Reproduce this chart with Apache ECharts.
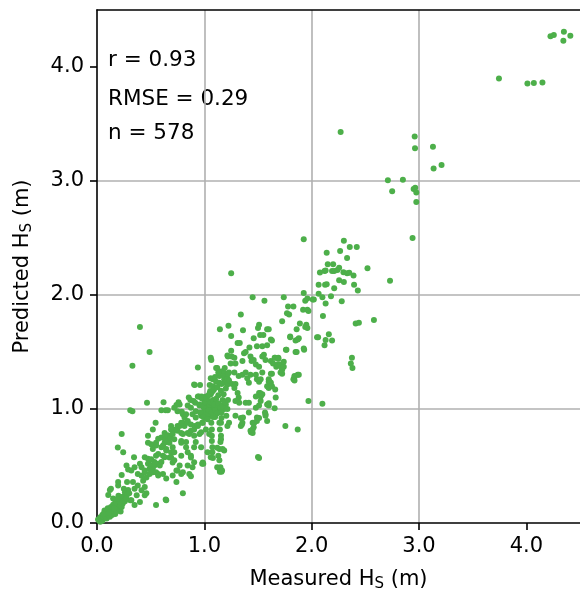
<!DOCTYPE html>
<html>
<head>
<meta charset="utf-8">
<script src="https://cdn.jsdelivr.net/npm/echarts@6/dist/echarts.min.js"></script>
<style>
  html, body { margin: 0; padding: 0; background: #fff; }
  #chart { width: 580px; height: 597px; }
</style>
</head>
<body>
<div id="chart"></div>
<script>
  // [measured Hs, predicted Hs] in metres
  var calmHs = [
    [0.01,0.03],[0.02,0.02],[0.03,0.05],[0.04,0.04],[0.05,0.07],[0.05,0.02],[0.06,0.05],[0.07,0.09],[0.07,0.11],[0.08,0.06],
    [0.09,0.04],[0.09,0.08],[0.10,0.13],[0.10,0.10],[0.11,0.07],[0.12,0.10],[0.12,0.055],[0.12,0.29],[0.13,0.14],[0.14,0.12],
    [0.14,0.07],[0.15,0.11],[0.15,0.16],[0.16,0.14],[0.17,0.08],[0.17,0.17],[0.18,0.19],[0.18,0.10],[0.19,0.15],[0.20,0.13],
    [0.20,0.24],[0.21,0.16],[0.21,0.19],[0.22,0.10],[0.22,0.21],[0.23,0.14],[0.23,0.42],[0.24,0.17],[0.24,0.23],[0.25,0.20],
    [0.26,0.19],[0.26,0.27],[0.27,0.22],[0.28,0.36],[0.28,0.25],[0.29,0.29],[0.29,0.47],[0.30,0.26],[0.31,0.20],[0.31,0.99],
    [0.105,0.245],[0.15,0.215],[0.167,0.17],[0.197,0.33],[0.197,0.36],[0.213,0.185],[0.23,0.78],[0.194,0.663],[0.244,0.62],[0.275,0.505],
    [0.27,0.215],[0.16,0.13],[0.06,0.08],[0.03,0.01],[0.11,0.09],[0.19,0.21],[0.25,0.30],[0.13,0.30],
    [0.33,0.98],[0.33,1.38],[0.40,1.72],[0.49,1.50],[0.466,1.055],[0.62,1.06],[0.60,0.99],[0.64,0.99],[0.66,0.99],[0.76,1.06],
    [0.74,1.035],[0.32,0.46],[0.32,0.20],[0.335,0.36],[0.345,0.577],[0.35,0.30],[0.35,0.49],[0.35,0.157],[0.37,0.243],[0.38,0.33],
    [0.38,0.43],[0.40,0.52],[0.40,0.185],[0.415,0.49],[0.415,0.415],[0.415,0.287],[0.43,0.37],[0.445,0.46],[0.445,0.316],[0.445,0.577],
    [0.445,0.445],[0.445,0.243],[0.46,0.26],[0.46,0.40],[0.475,0.52],[0.475,0.563],[0.475,0.765],[0.475,0.705],[0.49,0.43],[0.49,0.55],
    [0.49,0.475],[0.505,0.505],[0.505,0.69],[0.505,0.445],[0.505,0.56],[0.52,0.475],[0.52,0.82],[0.52,0.445],[0.52,0.65],[0.535,0.535],
    [0.535,0.505],[0.54,0.52],[0.546,0.88],[0.55,0.445],[0.55,0.705],[0.55,0.68],[0.55,0.59],[0.55,0.157],[0.57,0.52],[0.57,0.74],
    [0.57,0.417],[0.57,0.605],[0.57,0.43],[0.585,0.505],[0.60,0.535],[0.60,0.665],[0.60,0.75],[0.615,0.68],[0.615,0.43],[0.615,0.59],
    [0.63,0.79],[0.63,0.705],[0.63,0.577],[0.635,0.735],[0.64,0.206],[0.645,0.65],[0.645,0.765],[0.645,0.635],[0.645,0.39],[0.645,0.20],
    [0.66,0.77],[0.66,0.72],[0.675,0.705],[0.675,0.575],[0.685,0.745],[0.69,0.82],[0.69,0.62],[0.69,0.85],[0.69,0.577],[0.705,0.82],
    [0.705,0.665],[0.705,0.78],[0.705,0.53],[0.705,0.417],[0.72,0.62],[0.72,0.735],[0.72,1.01],[0.72,0.55],[0.74,0.82],[0.74,0.46],
    [0.74,0.36],[0.75,0.98],[0.75,0.81],[0.75,0.85],[0.75,0.46],[0.77,1.04],[0.77,0.85],[0.77,0.505],[0.785,0.79],[0.785,0.705],
    [0.785,0.72],[0.785,0.59],[0.785,0.43],[0.785,0.88],[0.79,0.975]
  ];
  var coreHs = [
    [0.80,0.955],[0.80,0.88],[0.80,0.78],[0.80,0.445],[0.80,0.26],[0.815,0.925],[0.815,0.85],[0.83,0.955],[0.83,0.665],[0.83,0.71],
    [0.845,0.895],[0.845,1.03],[0.845,0.79],[0.845,0.88],[0.845,0.62],[0.845,0.505],[0.855,1.10],[0.86,0.78],[0.86,0.43],[0.87,1.08],
    [0.875,1.01],[0.875,0.865],[0.875,0.81],[0.875,0.59],[0.875,0.575],[0.875,0.41],[0.89,0.955],[0.89,0.49],[0.90,1.07],[0.905,0.82],
    [0.905,0.765],[0.905,0.665],[0.905,0.533],[0.905,1.215],[0.91,1.21],[0.91,0.85],[0.915,1.055],[0.92,0.98],[0.92,0.925],[0.92,0.71],
    [0.94,1.365],[0.94,0.85],[0.94,0.865],[0.94,1.11],[0.95,1.11],[0.955,1.04],[0.955,1.03],[0.955,0.78],[0.96,1.21],[0.97,0.94],
    [0.97,1.10],[0.97,0.795],[0.97,0.665],[0.975,1.11],[0.98,1.09],[0.98,0.88],[0.985,0.88],[0.985,0.53],[0.99,0.52],[0.98,0.52],
    [1.0,1.0],[1.0,0.96],[1.0,1.05],[1.01,0.92],[1.015,1.11],[1.015,0.82],[1.02,0.99],[1.03,1.03],[1.03,0.62],[1.04,1.07],
    [1.045,0.78],[1.05,1.00],[1.05,1.21],[1.05,1.14],[1.05,0.95],[1.055,1.157],[1.06,1.45],[1.065,1.43],[1.06,1.27],[1.06,1.13],
    [1.06,0.577],[1.06,0.94],[1.065,0.88],[1.07,0.82],[1.07,1.02],[1.07,0.765],[1.07,0.72],[1.075,0.665],[1.075,0.62],[1.08,1.20],
    [1.08,1.26],[1.08,1.16],[1.08,0.57],[1.08,0.975],[1.09,1.00],[1.09,1.17],[1.10,1.05],[1.10,0.93],[1.11,1.36],[1.11,1.24],
    [1.11,1.02],[1.12,1.36],[1.12,1.01],[1.12,0.66],[1.12,0.49],[1.13,0.59],[1.14,0.98],[1.14,1.23],[1.14,1.29],[1.14,0.88],
    [1.14,0.65],[1.14,0.55],[1.14,0.475],[1.145,0.82],[1.145,1.70],[1.145,0.45],[1.15,0.71],[1.15,0.49],[1.155,0.765],[1.155,1.33],
    [1.155,1.16],[1.155,0.88],[1.155,0.735],[1.16,0.45],[1.165,0.46],[1.17,1.33],[1.17,0.65],[1.17,1.08],[1.185,1.315],[1.185,1.00],
    [1.185,1.26],[1.185,1.29],[1.19,1.23],[1.185,0.635],[1.20,1.04],[1.205,0.94],[1.215,1.47],[1.215,1.27],[1.215,1.00],[1.215,0.85],
    [1.22,1.46],[1.215,1.215],[1.225,1.73],[1.23,1.32],[1.23,0.88],[1.245,1.40],[1.25,1.64],[1.25,1.51],[1.25,2.19],[1.255,1.46],
    [0.96,0.97],[0.99,1.02],[1.01,1.06],[1.02,0.95],[1.04,0.99],[1.05,1.04],[1.06,1.06],[1.07,0.97],[1.08,1.08],[1.09,1.04],
    [1.10,0.99],[1.11,1.09],[1.12,0.96],[1.13,1.05],[1.15,1.01],[1.16,0.97],[1.17,1.03],[1.19,1.06],[0.99,0.93],[1.03,0.91],
    [1.08,0.93],[1.16,0.92],[1.02,1.09],[1.13,1.12],[1.18,1.13],[1.22,1.08],[1.04,1.12],[1.07,1.15],[1.12,1.19],[1.16,1.22],
    [1.20,1.18],[1.23,1.25],[1.10,1.28],[1.13,1.32],[1.19,1.36],[1.22,1.31]
  ];
  var upperHs = [
    [1.26,1.22],[1.28,1.45],[1.28,1.32],[1.28,1.185],[1.29,1.40],[1.29,1.22],[1.29,1.07],[1.29,0.94],[1.31,1.58],[1.31,1.14],
    [1.32,1.29],[1.32,1.10],[1.325,1.055],[1.33,1.58],[1.34,1.83],[1.34,0.92],[1.34,0.85],[1.35,0.865],[1.355,1.42],[1.355,1.30],
    [1.355,0.88],[1.36,0.925],[1.36,1.69],[1.37,1.49],[1.385,1.50],[1.385,1.32],[1.385,1.055],[1.40,1.27],[1.415,1.23],[1.415,1.055],
    [1.415,0.97],[1.42,1.54],[1.43,1.46],[1.43,1.30],[1.43,0.81],[1.435,0.795],[1.44,1.42],[1.45,1.98],[1.45,0.88],[1.45,0.79],
    [1.45,0.82],[1.46,1.62],[1.46,1.43],[1.46,0.84],[1.465,0.88],[1.48,1.39],[1.48,1.30],[1.48,1.11],[1.48,1.01],[1.49,1.55],
    [1.49,1.26],[1.49,0.895],[1.49,0.925],[1.50,1.71],[1.50,0.58],[1.51,1.74],[1.51,1.37],[1.51,1.24],[1.51,1.14],[1.51,1.03],
    [1.51,0.92],[1.51,0.57],[1.52,1.65],[1.52,1.14],[1.525,1.26],[1.525,1.07],[1.525,1.11],[1.53,1.12],[1.54,1.55],[1.54,1.46],
    [1.54,1.32],[1.54,1.13],[1.55,1.65],[1.555,1.475],[1.56,1.95],[1.565,0.97],[1.57,1.43],[1.57,0.94],[1.57,0.955],[1.585,1.70],
    [1.585,1.56],[1.585,1.04],[1.585,1.20],[1.585,0.895],[1.60,1.185],[1.60,1.26],[1.60,1.03],[1.60,1.05],[1.60,1.70],[1.60,1.24],
    [1.61,1.24],[1.62,1.61],[1.62,1.31],[1.62,1.42],[1.62,1.23],[1.63,1.20],[1.63,1.60],[1.63,1.31],[1.64,1.40],[1.655,1.45],
    [1.655,1.006],[1.66,1.45],[1.66,1.17],[1.665,1.10],[1.67,1.37],[1.68,1.39],[1.69,1.45],[1.69,1.44],[1.69,1.39],[1.71,1.39],
    [1.71,1.32],[1.72,1.36],[1.725,1.77],[1.725,1.31],[1.725,1.345],[1.74,1.37],[1.74,1.415],[1.74,1.98],[1.755,0.85],[1.76,1.52],
    [1.765,1.52]
  ];
  var roughHs = [
    [1.77,1.84],[1.78,1.90],[1.79,1.83],[1.80,1.635],[1.80,1.63],[1.83,1.90],[1.83,1.26],[1.84,1.28],[1.84,1.25],[1.84,1.29],
    [1.85,1.60],[1.85,1.50],[1.86,1.70],[1.86,1.50],[1.87,1.61],[1.87,1.30],[1.87,0.82],[1.88,1.62],[1.88,1.30],[1.89,1.75],
    [1.92,1.87],[1.926,2.49],[1.926,2.017],[1.926,1.53],[1.93,1.52],[1.94,1.95],[1.94,1.72],[1.95,1.74],[1.96,1.97],[1.96,1.71],
    [1.96,1.87],[1.97,1.86],[1.97,1.07],[2.01,1.96],[2.02,1.96],[2.05,1.63],[2.06,1.63],[2.065,2.09],[2.065,2.01],[2.077,2.197],
    [2.10,1.98],[2.10,1.046],[2.105,1.815],[2.12,2.21],[2.12,1.56],[2.125,2.09],[2.13,2.215],[2.13,1.925],[2.13,1.605],[2.14,2.37],
    [2.14,2.095],[2.15,2.27],[2.16,1.655],[2.18,1.99],[2.19,2.21],[2.19,1.60],[2.20,2.27],[2.21,2.21],[2.21,2.06],[2.24,2.22],
    [2.256,2.24],[2.256,2.13],[2.265,2.385],[2.27,3.43],[2.28,1.945],[2.296,2.20],[2.30,2.475],[2.30,2.115],[2.33,2.325],[2.33,2.19],
    [2.35,2.195],[2.355,2.42],[2.365,1.40],[2.375,1.45],[2.38,1.36],[2.39,2.17],[2.395,2.09],[2.41,1.75],[2.42,2.42],[2.43,2.04],
    [2.44,1.757],[2.52,2.235],[2.58,1.78],
    [2.71,3.006],[2.73,2.125],[2.75,2.91],[2.85,3.01],[2.94,2.50],[2.95,2.93],[2.965,2.94],[2.975,2.90],[2.975,2.815],[2.96,3.39],
    [2.963,3.287],[3.13,3.30],[3.136,3.11],[3.21,3.14],[3.745,3.90],[4.01,3.855],[4.07,3.86],[4.15,3.865],[4.225,4.27],[4.256,4.28],
    [4.35,4.31],[4.41,4.275],[4.345,4.23]
  ];
  var tickValues = [0, 1, 2, 3, 4];
  var statLines = ['r = 0.93', 'RMSE = 0.29', 'n = 578'];

  var font = 'DejaVu Sans';
  var green = '#4daf4a';
  var subStyle = {
    sub: { fontFamily: font, fontSize: 15, color: '#000', padding: [10, 0, 0, 0] }
  };

  var chart = echarts.init(document.getElementById('chart'));

  function makeAxis(name, gap) {
    return {
      type: 'value',
      min: 0,
      max: 4.5,
      interval: 1,
      name: name,
      nameLocation: 'middle',
      nameGap: gap,
      nameTextStyle: { fontFamily: font, fontSize: 21, color: '#000', rich: subStyle },
      axisLine: { show: true, onZero: false, lineStyle: { color: '#000', width: 1.6 } },
      axisTick: { show: true, length: 7, customValues: tickValues, lineStyle: { color: '#000', width: 1.6 } },
      axisLabel: {
        fontFamily: font, fontSize: 21, color: '#000', margin: 13,
        customValues: tickValues,
        formatter: function (v) { return v.toFixed(1) }
      },
      splitLine: { show: true, showMinLine: false, showMaxLine: false, lineStyle: { color: '#b0b0b0', width: 1.6 } }
    }
  }

  var yAxis = makeAxis('Predicted H{sub|S} (m)', 62);
  var xAxis = makeAxis('Measured H{sub|S} (m)', 44);

  chart.setOption({
    animation: false,
    grid: { left: 97, top: 10, width: 486, height: 518, containLabel: false },
    xAxis: [
      xAxis,
      {
        type: 'value', position: 'top', min: 0, max: 4.5, z: 10,
        axisLine: { show: true, onZero: false, lineStyle: { color: '#000', width: 1.6 } },
        axisTick: { show: false }, axisLabel: { show: false }, splitLine: { show: false }
      }
    ],
    yAxis: yAxis,
    graphic: statLines.map(function (t, i) {
      return {
        type: 'text',
        left: 108,
        top: [49, 88, 122][i],
        style: { text: t, fontFamily: font, fontSize: 21.5, fill: '#000' }
      }
    }),
    series: [{
      type: 'scatter',
      xAxisIndex: 0,
      symbolSize: 6,
      itemStyle: { color: green, opacity: 1 },
      data: calmHs.concat(coreHs, upperHs, roughHs)
    }]
  });
</script>
</body>
</html>
